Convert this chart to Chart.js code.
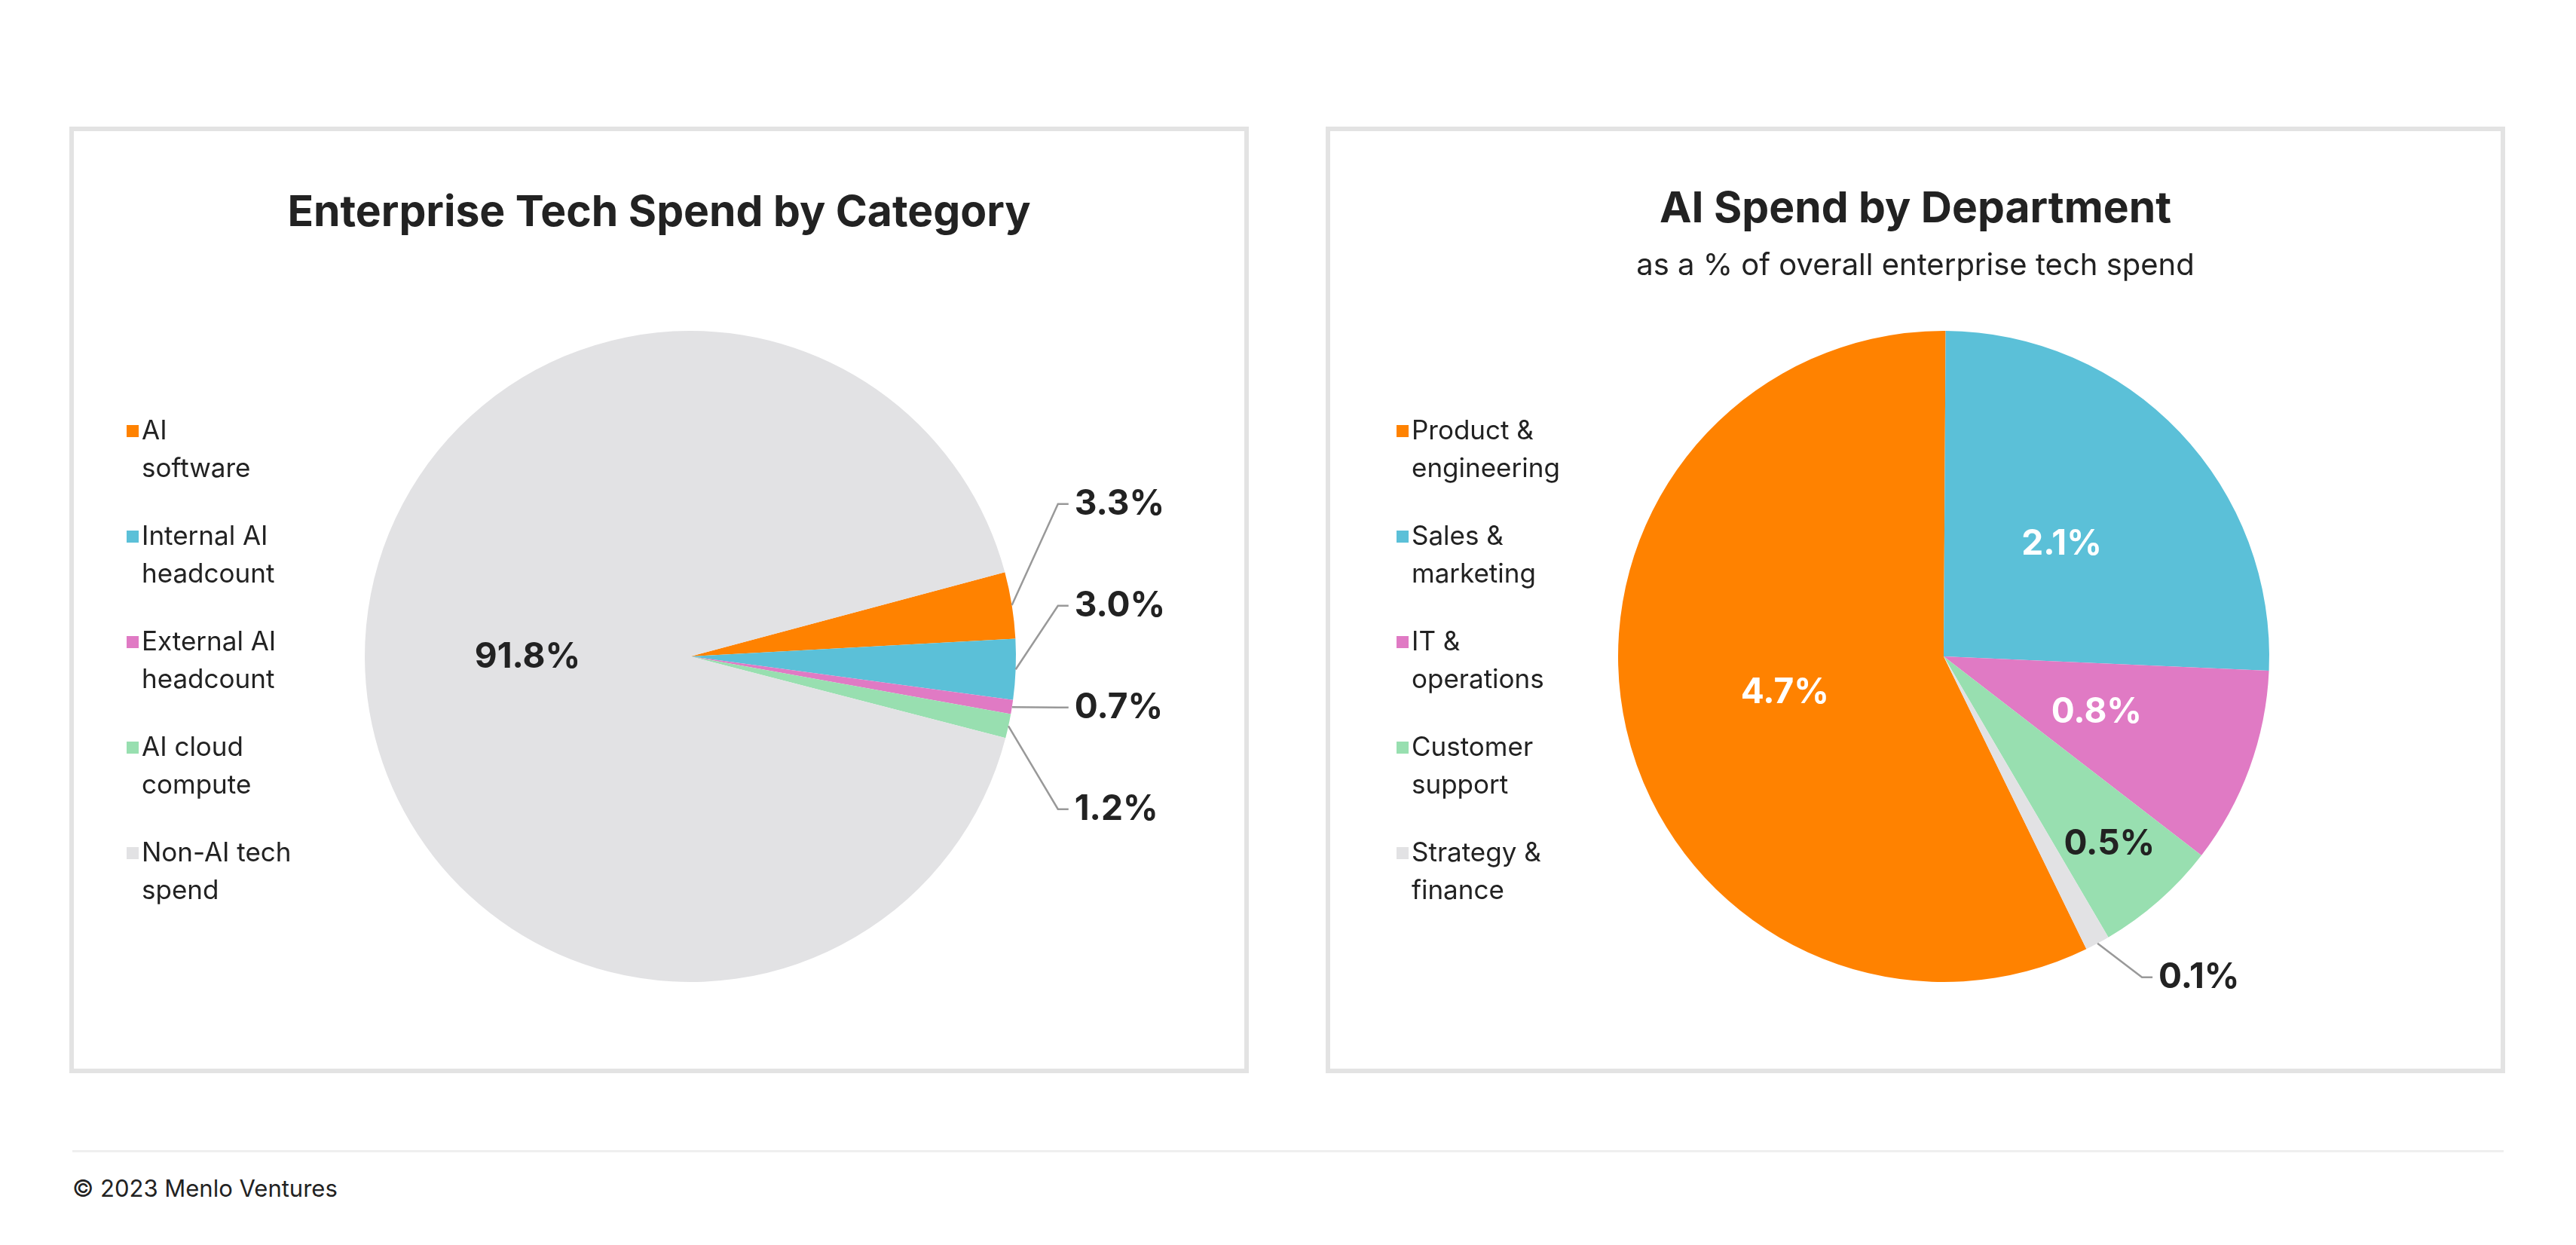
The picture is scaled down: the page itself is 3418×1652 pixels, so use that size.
<!DOCTYPE html>
<html><head><meta charset="utf-8">
<script src="https://cdn.jsdelivr.net/npm/chart.js@4.4.0/dist/chart.umd.min.js"></script>
<style>
body{margin:0;background:#fff;width:3418px;height:1652px;position:relative;font-family:Inter,"Noto Sans",sans-serif;overflow:hidden}
.panel{position:absolute;top:168px;width:1553px;height:1244px;border:6px solid #e3e3e3}
.panel canvas{display:block}
#p1{left:92px}#p2{left:1759px}
#rule{position:absolute;left:96px;top:1526px;width:3226px;height:3px;background:#efefef}
#foot{position:absolute;left:96px;top:1558px;font-size:31px;color:#222}
</style></head><body>
<div class="panel" id="p1"><canvas id="c1" width="1553" height="1244"></canvas></div>
<div class="panel" id="p2"><canvas id="c2" width="1553" height="1244"></canvas></div>
<div id="rule"></div><div id="foot">© 2023 Menlo Ventures</div>
<script>
const catLabels=[["AI","software"],["Internal AI","headcount"],["External AI","headcount"],["AI cloud","compute"],["Non-AI tech","spend"]];
const catValues=[3.3,3.0,0.7,1.2,91.8];
const deptLabels=[["Product &","engineering"],["Sales &","marketing"],["IT &","operations"],["Customer","support"],["Strategy &","finance"]];
const deptValues=[4.7,2.1,0.8,0.5,0.1];
const colors=["#FF8200","#5BC0D8","#E07AC4","#98DFB0","#E2E2E4"];
const F='Inter, "Noto Sans", sans-serif';

function makePlugin(cfg){return{id:'deco',afterDraw(chart){
  const ctx=chart.ctx,meta=chart.getDatasetMeta(0),W=chart.width;
  ctx.save();
  ctx.fillStyle='#222';ctx.textAlign='center';ctx.textBaseline='middle';
  ctx.font='bold 57px '+F;ctx.fillText(cfg.title,W/2,cfg.titleY);
  if(cfg.sub){ctx.font='40px '+F;ctx.fillText(cfg.sub,W/2,cfg.titleY+75);}
  ctx.textAlign='left';ctx.font='35px '+F;
  chart.data.labels.forEach((l,i)=>{const y=398+i*140;
    ctx.fillStyle=colors[i];ctx.fillRect(cfg.legX,y-8,16,16);
    ctx.fillStyle='#222';l.forEach((t,j)=>ctx.fillText(t,cfg.legX+20,y+j*50));});
  const outs=[];
  meta.data.forEach((arc,i)=>{
    const v=chart.data.datasets[0].data[i];const p=arc.getProps(['x','y','startAngle','endAngle','outerRadius']);
    const mid=(p.startAngle+p.endAngle)/2,r=p.outerRadius,txt=v.toFixed(1)+'%';
    const mode=cfg.mode[i];
    if(mode==='out'){outs.push({i,txt,ax:p.x+Math.cos(mid)*r,ay:p.y+Math.sin(mid)*r,cx:p.x,cy:p.y,r,mid});}
    else{ctx.font='bold 46px '+F;ctx.textAlign='center';
      ctx.fillStyle=cfg.white[i]?'#fff':'#222';
      ctx.fillText(txt,p.x+Math.cos(mid)*r*mode,p.y+Math.sin(mid)*r*mode);}
  });
  if(outs.length){
    const gap=135;
    const mean=outs.map(o=>o.ay).reduce((a,b)=>a+b,0)/outs.length+cfg.shift;
    outs.forEach((o,k)=>{
      const ly=outs.length>1?mean+(k-(outs.length-1)/2)*gap:o.ay+cfg.single;
      const lx=o.cx+o.r*cfg.lx;
      ctx.strokeStyle='#999';ctx.lineWidth=2.5;ctx.beginPath();
      ctx.moveTo(o.ax,o.ay);ctx.lineTo(lx-22,ly);ctx.lineTo(lx-8,ly);ctx.stroke();
      ctx.fillStyle='#222';ctx.font='bold 46px '+F;ctx.textAlign='left';ctx.fillText(o.txt,lx,ly);
    });
  }
  ctx.restore();}};}

function build(id,labels,values,rot,cfg){
  new Chart(document.getElementById(id),{type:'pie',
    data:{labels,datasets:[{data:values,backgroundColor:colors,borderWidth:0}]},
    options:{responsive:false,animation:false,rotation:rot,
      layout:{padding:{left:cfg.padL,right:1553-cfg.padL-864,top:265,bottom:1244-265-864}},
      plugins:{legend:{display:false},tooltip:{enabled:false}}},
    plugins:[makePlugin(cfg)]});
}
build('c1',catLabels,catValues,75,{title:'Enterprise Tech Spend by Category',titleY:109,legX:70,padL:386,
  mode:['out','out','out','out',0.5],white:[],shift:-27,lx:1.18,single:0});
build('c2',deptLabels,deptValues,154,{title:'AI Spend by Department',sub:'as a % of overall enterprise tech spend',titleY:104,legX:88,padL:382,
  mode:[0.5,0.5,0.5,0.77,'out'],white:[true,true,true,false],shift:0,lx:0.66,single:45});
</script></body></html>
